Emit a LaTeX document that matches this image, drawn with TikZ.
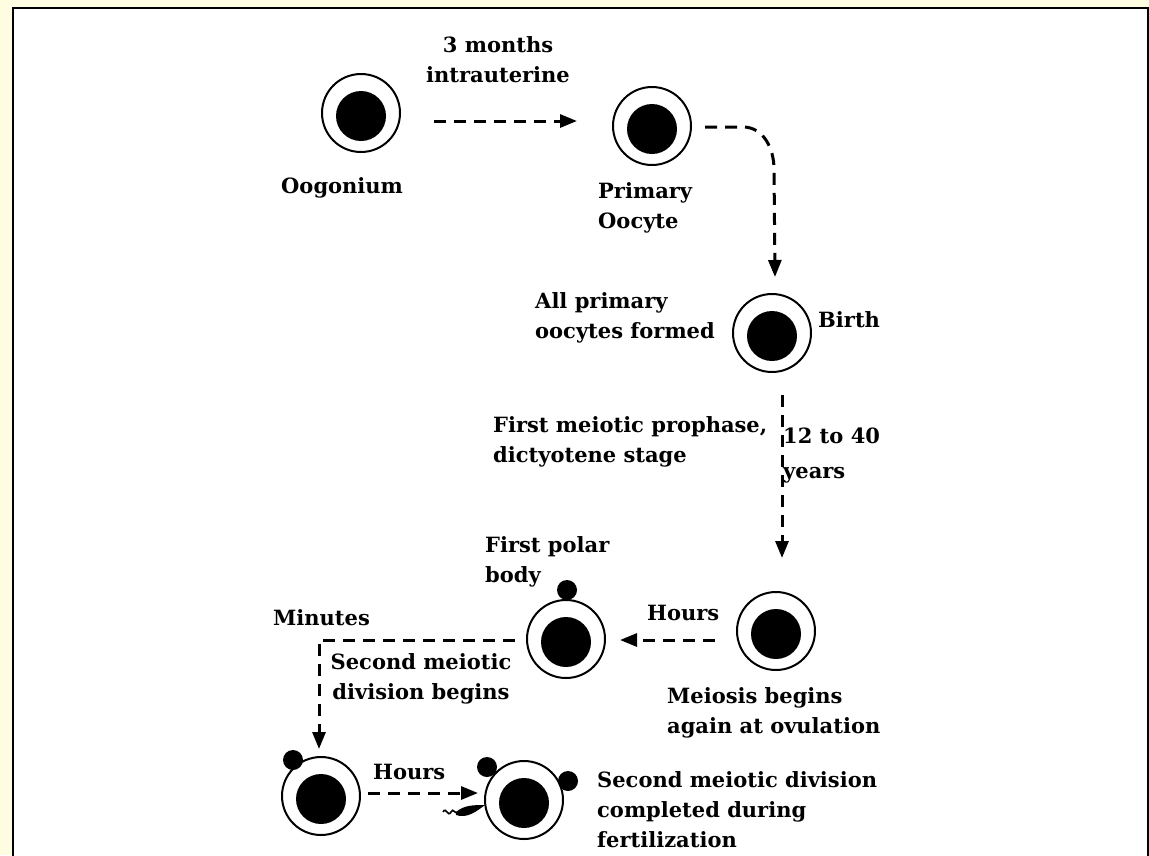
\documentclass[tikz,border=0pt]{standalone}
\usepackage{fontspec}
\setmainfont{DejaVu Serif}
\usetikzlibrary{arrows.meta}
\definecolor{pagebg}{HTML}{FFFDE1}
\begin{document}
\begin{tikzpicture}[x=1pt,y=-1pt,
  cell/.style={circle, draw, line width=2pt, minimum size=78pt, inner sep=0pt,
    path picture={\fill ([yshift=-3pt]path picture bounding box.center) circle (25pt);}},
  pbody/.style={circle, fill, inner sep=0pt, minimum size=20pt},
  lbl/.style={font=\bfseries\fontsize{21}{30}\selectfont, inner sep=0pt},
  flow/.style={line width=3pt, dash pattern=on 12pt off 8pt,
    -{Triangle[length=17pt,width=13pt]}}
]
% page and frame
\useasboundingbox (0,0) rectangle (1149,855);
\clip (0,0) rectangle (1149,855);
\fill[pagebg] (0,0) rectangle (1149,855);
\draw[line width=2.5pt, fill=white] (13,8) rectangle (1148,880);

% cells
\node[cell] (og) at (361,113) {};
\node[cell] (po) at (652,126) {};
\node[cell] (birth) at (772,333) {};
\node[cell] (mei) at (776,631) {};
\node[cell] (fp) at (566,639) {};
\node[cell] (bl) at (321,796) {};
\node[cell] (br) at (524,800) {};

% polar bodies
\node[pbody] (fpb) at (567,590) {};
\node[pbody] (blb) at (293,760) {};
\node[pbody] (brba) at (487,767) {};
\node[pbody] (brbb) at (568,781) {};

% labels (multi-line nodes are placed by the baseline of their last line)
\node[lbl, anchor=base, align=center] (tmonths) at (498,82) {3 months\\intrauterine};
\node[lbl, anchor=base west] (tog) at (281,193) {Oogonium};
\node[lbl, anchor=base west, align=left] (tpo) at (598,228) {Primary\\Oocyte};
\node[lbl, anchor=base west, align=left] (tall) at (535,338) {All primary\\oocytes formed};
\node[lbl, anchor=base west] (tbirth) at (818,327) {Birth};
\node[lbl, anchor=base west, align=left] (tfirst) at (493,462) {First meiotic prophase,\\dictyotene stage};
\node[lbl, anchor=base west, align=left, font=\bfseries\fontsize{21}{35}\selectfont] (tyears) at (783,478) {12 to 40\\years};
\node[lbl, anchor=base west, align=left] (tpolar) at (485,582) {First polar\\body};
\node[lbl, anchor=base west] (tmin) at (273,625) {Minutes};
\node[lbl, anchor=base west] (thoursa) at (647,620) {Hours};
\node[lbl, anchor=base, align=center] (tsecond) at (421,699) {Second meiotic\\division begins};
\node[lbl, anchor=base west, align=left] (tmei) at (667,733) {Meiosis begins\\again at ovulation};
\node[lbl, anchor=base west] (thoursb) at (373,779) {Hours};
\node[lbl, anchor=base west, align=left] (tdone) at (597,847) {Second meiotic division\\completed during\\fertilization};

% connectors
\draw[flow] ([shift={(33,8)}]og.east) -- ([shift={(-35,-5)}]po.west);
\draw[flow] ([shift={(13,1)}]po.east) -- ++(38,0)
  to[out=0,in=90] ++(31,42) -- ([shift={(3,-16)}]birth.north);
\draw[flow] ([shift={(10,22)}]birth.south) -- ([shift={(6,-33)}]mei.north);
\draw[flow] ([shift={(-21,9)}]mei.west) -- ([shift={(14,1)}]fp.east);
\draw[flow] ([shift={(-11,1)}]fp.west) -| ([shift={(-2,-7)}]bl.north);
\draw[flow] ([shift={(7,-3)}]bl.east) -- ([shift={(-6,-7)}]br.west);

% sperm entering the oocyte
\draw[line width=1.6pt] (443,812) .. controls (446,806) and (448,818) .. (451,812)
  .. controls (453,807) and (455,815) .. (458,812);
\fill (456,812) .. controls (464,805) and (474,805) .. (485,805)
  .. controls (477,811) and (467,819) .. (456,815) -- cycle;
\end{tikzpicture}
\end{document}
